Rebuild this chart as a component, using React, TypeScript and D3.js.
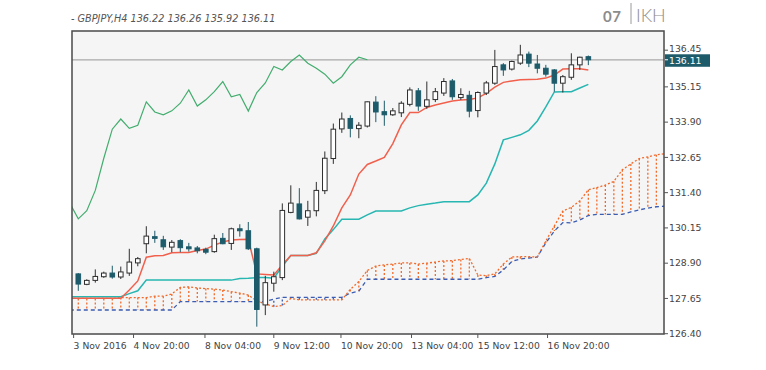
import * as d3 from 'd3';

const TITLE = '- GBPJPY,H4 136.22 136.26 135.92 136.11';
const LAST_PRICE = 136.11;

// H4 candles, bar 0 = first visible bar
const OPEN = [
  128.52, 128.15, 128.29, 128.42, 128.55, 128.41, 128.55, 128.91, 129.59, 129.84,
  129.73, 129.47, 129.70, 129.48, 129.44, 129.39, 129.31, 129.78, 129.60, 130.12,
  130.05, 129.41, 127.42, 128.19, 128.39, 130.70, 131.00, 130.53, 130.76, 131.47,
  132.61, 133.66, 134.03, 133.67, 133.76, 134.61, 134.27, 134.16, 134.23, 134.53,
  135.01, 134.46, 134.70, 134.93, 135.36, 134.77, 134.85, 134.31, 134.93, 135.28,
  135.93, 135.78, 135.99, 136.31, 135.96, 135.81, 135.75, 135.28, 135.49, 135.93,
  136.22,
];
const HIGH = [
  128.55, 128.33, 128.68, 128.60, 128.81, 128.78, 129.41, 129.12, 130.21, 130.05,
  129.87, 129.72, 129.75, 129.62, 129.51, 129.45, 129.91, 129.97, 130.16, 130.28,
  130.36, 129.45, 128.45, 128.60, 131.02, 131.66, 131.56, 131.11, 131.78, 132.86,
  133.85, 134.24, 134.14, 133.90, 134.63, 134.82, 134.66, 134.40, 134.64, 135.13,
  135.11, 135.34, 135.11, 135.46, 135.43, 135.10, 135.01, 134.99, 135.36, 136.46,
  135.99, 136.08, 136.64, 136.40, 136.28, 135.93, 135.78, 135.57, 136.34, 136.22,
  136.26,
];
const LOW = [
  127.92, 128.12, 128.21, 128.38, 128.35, 128.34, 128.45, 128.79, 129.25, 129.62,
  129.37, 129.29, 129.29, 129.31, 129.25, 129.22, 129.27, 129.57, 129.37, 129.84,
  129.37, 126.65, 127.06, 127.89, 128.30, 130.67, 130.45, 130.22, 130.56, 131.35,
  132.42, 133.52, 133.36, 133.33, 133.71, 133.90, 133.77, 134.12, 134.08, 134.46,
  134.30, 134.37, 134.61, 134.83, 134.69, 134.69, 134.07, 134.07, 134.86, 135.22,
  135.54, 135.73, 135.93, 135.85, 135.63, 135.51, 134.98, 134.95, 135.40, 135.75,
  135.92,
];
const CLOSE = [
  128.16, 128.29, 128.43, 128.55, 128.41, 128.59, 128.94, 129.06, 129.86, 129.78,
  129.48, 129.64, 129.45, 129.41, 129.34, 129.29, 129.77, 129.59, 130.12, 130.05,
  129.41, 127.26, 128.21, 128.42, 130.77, 131.03, 130.47, 130.76, 131.48, 132.62,
  133.65, 134.01, 133.68, 133.79, 134.62, 134.26, 134.16, 134.30, 134.57, 135.04,
  134.47, 134.69, 134.98, 135.34, 134.80, 134.88, 134.29, 134.95, 135.29, 135.87,
  135.75, 136.05, 136.28, 135.99, 135.81, 135.60, 135.28, 135.51, 135.93, 136.20,
  136.11,
];

// Ichimoku lines; these start at bar -1 so they reach the left edge of the plot
const LINE_START = -1;
const TENKAN = [
  127.66, 127.66, 127.66, 127.66, 127.66, 127.66, 127.66, 127.95, 128.27, 129.11,
  129.16, 129.17, 129.27, 129.28, 129.28, 129.35, 129.40, 129.54, 129.65, 129.72,
  129.74, 129.75, 128.52, 128.50, 128.48, 128.84, 129.17, 129.17, 129.17, 129.27,
  129.69, 130.22, 130.86, 131.32, 132.06, 132.40, 132.52, 132.65, 133.14, 133.80,
  134.24, 134.24, 134.42, 134.51, 134.58, 134.65, 134.68, 134.70, 134.76, 134.92,
  135.14, 135.31, 135.36, 135.40, 135.41, 135.42, 135.46, 135.57, 135.78, 135.79,
  135.79, 135.75,
];
const KIJUN = [
  127.71, 127.71, 127.71, 127.71, 127.71, 127.71, 127.71, 127.82, 127.92, 128.30,
  128.30, 128.30, 128.30, 128.30, 128.30, 128.30, 128.30, 128.30, 128.30, 128.30,
  128.36, 128.37, 128.39, 128.39, 128.37, 128.79, 129.17, 129.17, 129.17, 129.25,
  129.76, 130.09, 130.46, 130.46, 130.46, 130.61, 130.75, 130.75, 130.75, 130.75,
  130.86, 130.94, 130.99, 131.03, 131.08, 131.08, 131.08, 131.08, 131.32, 131.74,
  132.42, 133.27, 133.36, 133.45, 133.61, 133.94, 134.44, 134.97, 134.98, 134.98,
  135.11, 135.24,
];
const CHIKOU = [
  131.03, 130.47, 130.76, 131.48, 132.62, 133.65, 134.01, 133.68, 133.79, 134.62,
  134.26, 134.16, 134.30, 134.57, 135.04, 134.47, 134.69, 134.98, 135.34, 134.80,
  134.88, 134.29, 134.95, 135.29, 135.87, 135.75, 136.05, 136.28, 135.99, 135.81,
  135.60, 135.28, 135.51, 135.93, 136.20, 136.11,
];
const SPAN_A = [
  127.65, 127.65, 127.65, 127.65, 127.65, 127.65, 127.68, 127.68, 127.68, 127.68,
  127.73, 127.73, 127.81, 128.04, 128.06, 128.02, 128.00, 127.98, 127.95, 127.89,
  127.84, 127.77, 127.56, 127.46, 127.36, 127.40, 127.65, 127.60, 127.60, 127.60,
  127.60, 127.60, 127.60, 127.97, 128.25, 128.64, 128.80, 128.84, 128.87, 128.91,
  128.91, 128.87, 128.90, 128.94, 128.98, 128.99, 129.03, 129.07, 128.48, 128.46,
  128.52, 128.87, 129.12, 129.13, 129.13, 129.12, 129.69, 130.22, 130.75, 130.88,
  131.11, 131.50, 131.58, 131.67, 131.80, 132.21, 132.42, 132.61, 132.67, 132.74,
  132.78,
];
const SPAN_B = [
  127.24, 127.24, 127.24, 127.24, 127.24, 127.24, 127.24, 127.24, 127.24, 127.24,
  127.24, 127.24, 127.24, 127.54, 127.54, 127.54, 127.54, 127.54, 127.54, 127.54,
  127.54, 127.54, 127.54, 127.54, 127.63, 127.69, 127.69, 127.69, 127.69, 127.69,
  127.69, 127.69, 127.69, 127.84, 127.91, 128.33, 128.33, 128.33, 128.33, 128.33,
  128.33, 128.33, 128.33, 128.33, 128.33, 128.33, 128.33, 128.33, 128.33, 128.39,
  128.43, 128.66, 128.96, 129.05, 129.08, 129.12, 129.62, 130.04, 130.34, 130.33,
  130.43, 130.59, 130.63, 130.63, 130.63, 130.63, 130.72, 130.79, 130.85, 130.90,
  130.92,
];

const Y_TICKS = [136.45, 135.15, 133.9, 132.65, 131.4, 130.15, 128.9, 127.65, 126.4];
const X_TICK_LABELS = ['3 Nov 2016', '4 Nov 20:00', '8 Nov 04:00', '9 Nov 12:00', '10 Nov 20:00', '13 Nov 04:00', '15 Nov 12:00', '16 Nov 20:00'];
const X_TICK_BARS = [-0.55, 6.5, 14.9, 23, 30.9, 39.2, 47, 55.2];

const W = 766, H = 370;
const plot = { left: 72, right: 664, top: 31, bottom: 334 };

const BEAR = '#1d5b6a';
const BULL_STROKE = '#2e2e2e';
const AXIS_FONT = '"DejaVu Sans", Verdana, sans-serif';
const BRAND_FONT = 'Lato, "Open Sans", sans-serif';

export default function App() {
  const x = d3.scaleLinear().domain([-0.74, 68.9]).range([plot.left, plot.right]);
  const y = d3.scaleLinear().domain([126.39, 137.13]).range([plot.bottom, plot.top]);

  const path = (vals: number[], start: number) =>
    d3.line<number>().x((_, i) => x(i + start)).y(d => y(d))(vals) || '';

  const bodyW = 4.6;

  return (
    <svg width={W} height={H} style={{ position: 'absolute', left: 0, top: 0, background: '#fff' }}
      fontFamily={AXIS_FONT}>
      <defs>
        <clipPath id="plotClip">
          <rect x={plot.left} y={plot.top} width={plot.right - plot.left} height={plot.bottom - plot.top} />
        </clipPath>
      </defs>

      {/* header */}
      <text x={71} y={22} fontSize={9.7} fontStyle="italic" fill="#555">{TITLE}</text>
      <text x={603} y={22} fontFamily={BRAND_FONT} fontSize={15} fontWeight={700} letterSpacing={0.5} fill="#8c8c8c">07</text>
      <line x1={631} x2={631} y1={3} y2={24} stroke="#9a9a9a" strokeWidth={1} />
      <text x={636} y={22} fontFamily={BRAND_FONT} fontSize={18} fontWeight={300} fill="#8c8c8c">IKH</text>

      <rect x={plot.left} y={plot.top} width={plot.right - plot.left} height={plot.bottom - plot.top} fill="#f5f5f5" />

      <g clipPath="url(#plotClip)">
        {/* kumo hatch */}
        {SPAN_A.map((a, i) => {
          const b = SPAN_B[i];
          const bx = x(i + LINE_START);
          return (
            <line key={'h' + i} x1={bx} x2={bx} y1={y(a)} y2={y(b)}
              stroke={a >= b ? '#f26a2a' : '#3b5cb3'} strokeWidth={1.3} strokeDasharray="2,2" />
          );
        })}
        <path d={path(SPAN_B, LINE_START)} fill="none" stroke="#3b5cb3" strokeWidth={1.3} strokeDasharray="4,3" />
        <path d={path(SPAN_A, LINE_START)} fill="none" stroke="#f26a2a" strokeWidth={1.3} strokeDasharray="2,2" />

        {/* last price line */}
        <line x1={plot.left} x2={plot.right} y1={y(LAST_PRICE)} y2={y(LAST_PRICE)} stroke="#a9a9a9" strokeWidth={1.2} />

        <path d={path(CHIKOU, LINE_START)} fill="none" stroke="#42ad6e" strokeWidth={1.2} />
        <path d={path(KIJUN, LINE_START)} fill="none" stroke="#27b6b1" strokeWidth={1.5} />
        <path d={path(TENKAN, LINE_START)} fill="none" stroke="#f1604d" strokeWidth={1.5} />

        {/* candles */}
        {OPEN.map((o, i) => {
          const c = CLOSE[i];
          const bull = c >= o;
          const cx = x(i);
          const top = y(Math.max(o, c));
          const bot = y(Math.min(o, c));
          const col = bull ? BULL_STROKE : BEAR;
          return (
            <g key={'c' + i}>
              <line x1={cx} x2={cx} y1={y(HIGH[i])} y2={y(LOW[i])} stroke={col} strokeWidth={1} />
              <rect x={cx - bodyW / 2} y={top} width={bodyW} height={Math.max(1, bot - top)}
                fill={bull ? '#fff' : BEAR} stroke={col} strokeWidth={1} />
            </g>
          );
        })}
      </g>

      <rect x={plot.left} y={plot.top} width={plot.right - plot.left} height={plot.bottom - plot.top}
        fill="none" stroke="#4a4a4a" strokeWidth={1.5} />

      {/* right price axis */}
      {Y_TICKS.map(t => (
        <g key={'y' + t}>
          <line x1={plot.right} x2={plot.right + 4} y1={y(t)} y2={y(t)} stroke="#555" />
          <text x={plot.right + 5} y={y(t)} dy={t === Y_TICKS[0] ? '0.2em' : '0.35em'} fontSize={9.3}
            fill="#444">{t.toFixed(2)}</text>
        </g>
      ))}
      <rect x={plot.right + 1} y={y(LAST_PRICE) - 5.5} width={45} height={12.5} fill={BEAR} />
      <line x1={plot.right + 1} x2={plot.right + 4} y1={y(LAST_PRICE)} y2={y(LAST_PRICE)} stroke="#fff" />
      <text x={plot.right + 5} y={y(LAST_PRICE)} dy="0.42em" fontSize={9.3} fill="#fff">{LAST_PRICE.toFixed(2)}</text>

      {/* time axis */}
      {X_TICK_BARS.map((b, i) => (
        <g key={'x' + i}>
          <line x1={x(b)} x2={x(b)} y1={plot.bottom} y2={plot.bottom + 4} stroke="#555" />
          <text x={x(b)} y={349} fontSize={9.2} fill="#444">{X_TICK_LABELS[i]}</text>
        </g>
      ))}
    </svg>
  );
}
